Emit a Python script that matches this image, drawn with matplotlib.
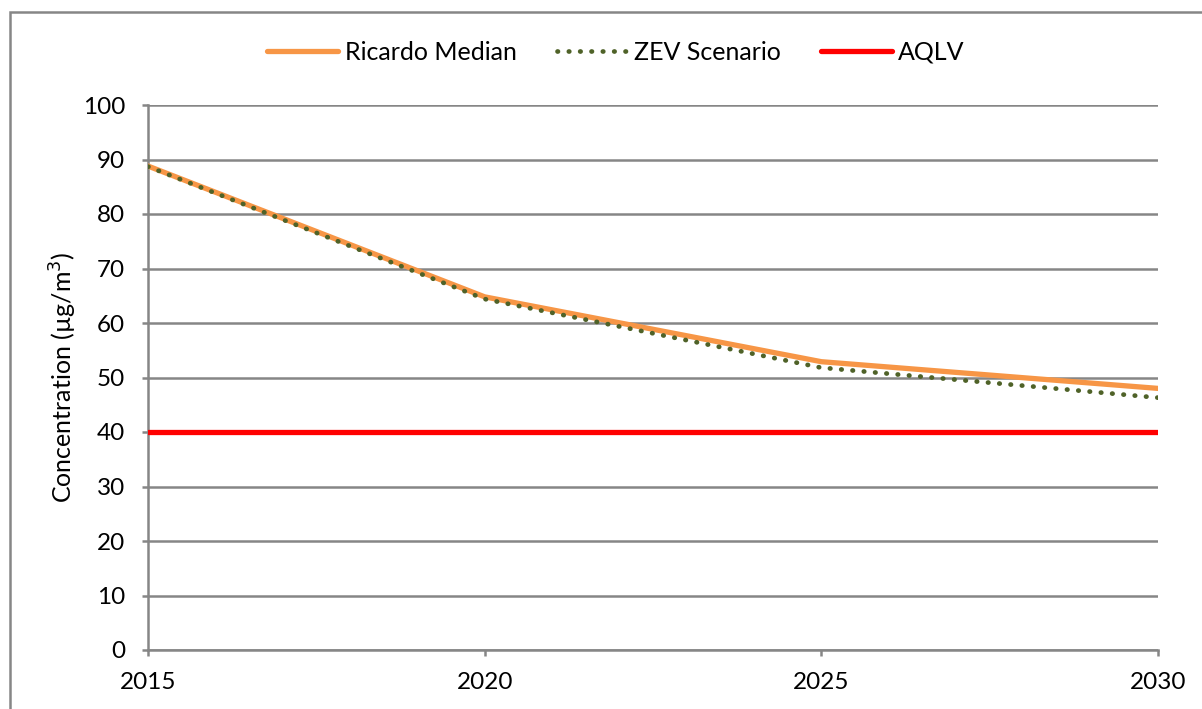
import matplotlib.pyplot as plt
from matplotlib.patches import Rectangle

# data
years = [2015, 2020, 2025, 2030]
ricardo_median = [88.8, 64.8, 52.9, 48.0]
zev_scenario = [88.7, 64.4, 51.8, 46.3]
aqlv = [40, 40, 40, 40]
y_ticks = list(range(0, 101, 10))

plt.rcParams['font.family'] = ['Lato', 'DejaVu Sans']

fig = plt.figure(figsize=(12.02, 7.09), dpi=100)
ax = fig.add_axes([148 / 1202, 1 - 650 / 709, (1158 - 148) / 1202, (650 - 105) / 709])

grid_col = '#868686'
fs = 17.5
ax.plot(years, ricardo_median, color='#F79646', lw=3.8, solid_capstyle='round',
        label='Ricardo Median', zorder=3)
ax.plot(years, zev_scenario, color='#4F6228', lw=3.4, linestyle=(0, (0.1, 2.3)),
        dash_capstyle='round', label='ZEV Scenario', zorder=4)
ax.plot(years, aqlv, color='#FF0000', lw=3.8, solid_capstyle='round',
        label='AQLV', zorder=3)

ax.set_xlim(2015, 2030)
ax.set_ylim(0, 100)
ax.set_xticks([2015, 2020, 2025, 2030])
ax.set_yticks(y_ticks)
ax.yaxis.grid(True, color=grid_col, lw=1.8)
ax.set_axisbelow(True)
for s in ['top', 'right']:
    ax.spines[s].set_visible(False)
for s in ['left', 'bottom']:
    ax.spines[s].set_color(grid_col)
    ax.spines[s].set_linewidth(1.8)
ax.tick_params(axis='both', colors=grid_col, labelcolor='black', labelsize=fs,
               length=4.5, width=1.8)
ax.tick_params(axis='x', pad=11)
ax.tick_params(axis='y', pad=12)
ax.set_ylabel('Concentration (µg/m$^3$)', fontsize=18, labelpad=3)

fig.legend(*ax.get_legend_handles_labels(), loc='center',
           bbox_to_anchor=(616 / 1202, 1 - 52 / 709), ncol=3, frameon=False,
           fontsize=18, handlelength=2.85, columnspacing=1.6, handletextpad=0.25)

# outer chart border
fig.patches.append(Rectangle((10 / 1202, -0.1), 1.2, 1 - 12 / 709 + 0.1,
                             transform=fig.transFigure, fill=False,
                             edgecolor=grid_col, lw=1.8))

fig.savefig('out.png', dpi=100)
